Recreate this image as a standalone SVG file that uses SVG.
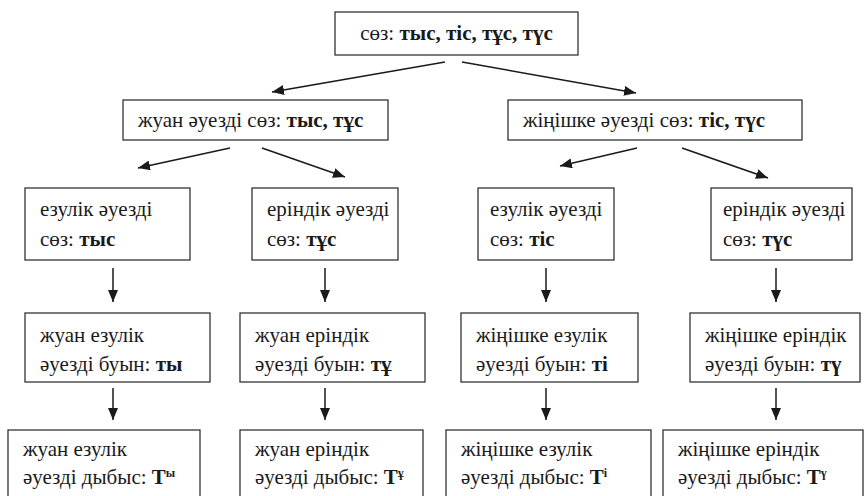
<svg xmlns="http://www.w3.org/2000/svg" width="866" height="496" viewBox="0 0 866 496">
  <style>
    .box { fill: #ffffff; stroke: #333333; stroke-width: 1.3; }
    .t { font-family: "Liberation Serif", "Times New Roman", serif; font-size: 21px; fill: #1a1a1a; }
    .b { font-weight: bold; }
    .sup { font-size: 12px; font-weight: bold; }
    .con { stroke: #1a1a1a; stroke-width: 1.5; fill: none; marker-end: url(#ah); }
  </style>
  <defs>
    <marker id="ah" markerUnits="userSpaceOnUse" markerWidth="12" markerHeight="10" refX="12" refY="5" orient="auto">
      <path d="M0,0 L12,5 L0,10 z" fill="#1a1a1a"/>
    </marker>
  </defs>
  <rect width="866" height="496" fill="#ffffff"/>

  <!-- connectors -->
  <g id="connectors">
    <line class="con" x1="445" y1="62" x2="272" y2="92"/>
    <line class="con" x1="462" y1="62" x2="636" y2="93"/>
    <line class="con" x1="230" y1="148" x2="138" y2="168"/>
    <line class="con" x1="262" y1="148" x2="345" y2="177"/>
    <line class="con" x1="637" y1="148" x2="560" y2="166"/>
    <line class="con" x1="682" y1="148" x2="768" y2="178"/>
    <line class="con" x1="113" y1="268" x2="113" y2="302"/>
    <line class="con" x1="325" y1="268" x2="325" y2="302"/>
    <line class="con" x1="546" y1="268" x2="546" y2="302"/>
    <line class="con" x1="776" y1="268" x2="776" y2="302"/>
    <line class="con" x1="113" y1="388" x2="113" y2="420"/>
    <line class="con" x1="325" y1="388" x2="325" y2="420"/>
    <line class="con" x1="546" y1="388" x2="546" y2="420"/>
    <line class="con" x1="776" y1="388" x2="776" y2="420"/>
  </g>

  <!-- root -->
  <g id="n-root">
    <rect class="box" x="335" y="12" width="243" height="43"/>
    <text class="t" x="456.5" y="40" text-anchor="middle">сөз: <tspan class="b">тыс, тіс, тұс, түс</tspan></text>
  </g>

  <!-- second level -->
  <g id="n-back">
    <rect class="box" x="123" y="100" width="265" height="40"/>
    <text class="t" x="138" y="127">жуан әуезді сөз: <tspan class="b">тыс, тұс</tspan></text>
  </g>
  <g id="n-front">
    <rect class="box" x="508" y="100" width="294" height="40"/>
    <text class="t" x="523" y="127">жіңішке әуезді сөз: <tspan class="b">тіс, түс</tspan></text>
  </g>

  <!-- third level: words -->
  <g id="n-w1">
    <rect class="box" x="25" y="188" width="165" height="72"/>
    <text class="t" x="40" y="216">езулік әуезді</text>
    <text class="t" x="40" y="246">сөз: <tspan class="b">тыс</tspan></text>
  </g>
  <g id="n-w2">
    <rect class="box" x="252" y="188" width="146" height="72"/>
    <text class="t" x="267" y="216">еріндік әуезді</text>
    <text class="t" x="267" y="246">сөз: <tspan class="b">тұс</tspan></text>
  </g>
  <g id="n-w3">
    <rect class="box" x="478" y="188" width="136" height="72"/>
    <text class="t" x="490" y="216">езулік әуезді</text>
    <text class="t" x="490" y="246">сөз: <tspan class="b">тіс</tspan></text>
  </g>
  <g id="n-w4">
    <rect class="box" x="711" y="188" width="141" height="72"/>
    <text class="t" x="723" y="216">еріндік әуезді</text>
    <text class="t" x="723" y="246">сөз: <tspan class="b">түс</tspan></text>
  </g>

  <!-- fourth level: syllables -->
  <g id="n-s1">
    <rect class="box" x="25" y="313" width="185" height="69"/>
    <text class="t" x="40" y="342">жуан езулік</text>
    <text class="t" x="40" y="371">әуезді буын: <tspan class="b">ты</tspan></text>
  </g>
  <g id="n-s2">
    <rect class="box" x="240" y="313" width="185" height="69"/>
    <text class="t" x="255" y="342">жуан еріндік</text>
    <text class="t" x="255" y="371">әуезді буын: <tspan class="b">тұ</tspan></text>
  </g>
  <g id="n-s3">
    <rect class="box" x="461" y="313" width="177" height="69"/>
    <text class="t" x="476" y="342">жіңішке езулік</text>
    <text class="t" x="476" y="371">әуезді буын: <tspan class="b">ті</tspan></text>
  </g>
  <g id="n-s4">
    <rect class="box" x="690" y="313" width="170" height="69"/>
    <text class="t" x="705" y="342">жіңішке еріндік</text>
    <text class="t" x="705" y="371">әуезді буын: <tspan class="b">тү</tspan></text>
  </g>

  <!-- fifth level: sounds (boxes run past the lower edge) -->
  <g id="n-p1">
    <rect class="box" x="8" y="430" width="192" height="80"/>
    <text class="t" x="23" y="456">жуан езулік</text>
    <text class="t" x="23" y="484">әуезді дыбыс: <tspan class="b">Т</tspan><tspan class="sup" dy="-7">ы</tspan></text>
  </g>
  <g id="n-p2">
    <rect class="box" x="240" y="430" width="183" height="80"/>
    <text class="t" x="255" y="456">жуан еріндік</text>
    <text class="t" x="255" y="484">әуезді дыбыс: <tspan class="b">Т</tspan><tspan class="sup" dy="-7">ұ</tspan></text>
  </g>
  <g id="n-p3">
    <rect class="box" x="446" y="430" width="205" height="80"/>
    <text class="t" x="461" y="456">жіңішке езулік</text>
    <text class="t" x="461" y="484">әуезді дыбыс: <tspan class="b">Т</tspan><tspan class="sup" dy="-7">і</tspan></text>
  </g>
  <g id="n-p4">
    <rect class="box" x="663" y="430" width="200" height="80"/>
    <text class="t" x="678" y="456">жіңішке еріндік</text>
    <text class="t" x="678" y="484">әуезді дыбыс: <tspan class="b">Т</tspan><tspan class="sup" dy="-7">ү</tspan></text>
  </g>
</svg>
